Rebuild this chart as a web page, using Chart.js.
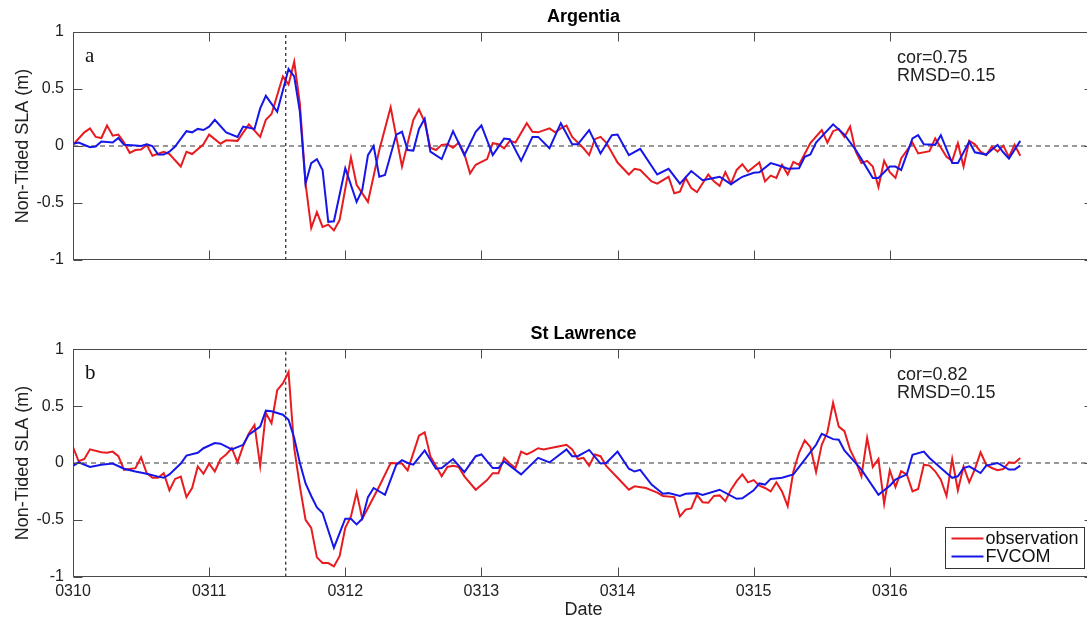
<!DOCTYPE html>
<html>
<head>
<meta charset="utf-8">
<script src="https://cdn.jsdelivr.net/npm/chart.js@4.4.1/dist/chart.umd.min.js"></script>
<style>
  html, body { margin: 0; padding: 0; background: #fff; overflow: hidden; }
  #wrap { position: relative; width: 1087px; height: 619px; overflow: hidden; }
  .panel { position: absolute; left: 0; }
  #chartA { top: 0; }
  #chartB { top: 300px; }
</style>
</head>
<body>
<div id="wrap">
  <canvas class="panel" id="chartA" width="1094" height="300"></canvas>
  <canvas class="panel" id="chartB" width="1094" height="330"></canvas>
</div>
<script>
// hours since 0310 00:00, 10 per line
const dayLabels = ['0310', '0311', '0312', '0313', '0314', '0315', '0316'];
const yTicks = [-1, -0.5, 0, 0.5, 1];
const eventHour = 37.5;

// Argentia: tide gauge (observation)
const argObsHours = [
  0, 2, 3, 4, 5, 6, 7, 8, 9, 10,
  11, 12, 13, 14, 16, 17, 19, 20, 21, 23,
  24, 26, 27, 29, 31, 33, 34, 35, 37, 38,
  39, 40, 41, 42, 43, 44, 45, 46, 47, 49,
  50, 52, 54, 56, 58, 60, 61, 62, 63, 64,
  65, 66, 67, 68, 69, 70, 71, 73, 74, 75,
  76, 77, 78, 80, 81, 82, 84, 85, 86, 87,
  88, 90, 91, 92, 93, 94, 96, 98, 99, 100,
  102, 103, 105, 106, 107, 108, 109, 110, 112, 113,
  114, 115, 116, 117, 118, 119, 121, 122, 123, 124,
  125, 126, 127, 128, 130, 132, 133, 134, 135, 136,
  137, 138, 139, 140, 141, 142, 143, 144, 145, 146,
  148, 149, 151, 152, 154, 155, 156, 157, 158, 159,
  160, 161, 162, 163, 164, 165, 166, 167
];
const argObs = [
  0.01, 0.12, 0.155, 0.08, 0.07, 0.18, 0.09, 0.10, 0.03, -0.06,
  -0.035, -0.03, 0.01, -0.085, -0.05, -0.07, -0.18, -0.05, -0.07, 0.015,
  0.10, 0.02, 0.05, 0.045, 0.19, 0.08, 0.23, 0.28, 0.61, 0.54,
  0.74, 0.37, -0.33, -0.72, -0.58, -0.71, -0.69, -0.74, -0.65, -0.10,
  -0.34, -0.49, -0.035, 0.34, -0.18, 0.23, 0.32, 0.21, -0.015, -0.035,
  0.01, 0.015, -0.015, 0.03, -0.07, -0.24, -0.165, -0.115, 0.025, 0.015,
  -0.02, 0.045, 0.03, 0.2, 0.125, 0.12, 0.155, 0.12, 0.155, 0.18,
  0.08, -0.02, -0.08, 0.06, 0.08, 0.03, -0.145, -0.25, -0.2, -0.21,
  -0.31, -0.33, -0.27, -0.415, -0.4, -0.28, -0.37, -0.405, -0.25, -0.31,
  -0.35, -0.23, -0.33, -0.21, -0.16, -0.225, -0.145, -0.31, -0.26, -0.28,
  -0.165, -0.25, -0.14, -0.165, 0.025, 0.14, 0.03, 0.13, 0.15, 0.08,
  0.17, -0.05, -0.15, -0.13, -0.18, -0.36, -0.13, -0.23, -0.28, -0.11,
  0.03, -0.065, -0.045, 0.067, -0.095, -0.13, 0.025, -0.18, 0.045, 0.015,
  -0.05, -0.08, -0.005, -0.05, 0.003, -0.095, 0.01, -0.085
];

// Argentia: FVCOM
const argModHours = [
  0, 1, 3, 4, 5, 7, 8, 9, 11, 12,
  13, 14, 15, 16, 17, 18, 20, 21, 22, 23,
  24, 25, 27, 29, 30, 32, 33, 34, 36, 38,
  39, 40, 41, 42, 43, 44, 45, 46, 48, 50,
  51, 52, 53, 54, 55, 57, 58, 59, 60, 61,
  62, 63, 65, 67, 69, 71, 72, 74, 76, 77,
  79, 81, 82, 84, 86, 88, 89, 91, 93, 95,
  96, 98, 100, 103, 105, 107, 109, 111, 113, 114,
  116, 118, 120, 121, 123, 125, 126, 128, 129, 130,
  131, 134, 136, 138, 139, 141, 142, 144, 145, 146,
  148, 149, 150, 152, 153, 155, 156, 158, 159, 161,
  163, 164, 165, 167
];
const argMod = [
  0.02, 0.03, -0.01, -0.005, 0.04, 0.03, 0.07, 0.01, 0.005, 0.0,
  0.015, 0.0, -0.075, -0.075, -0.05, -0.005, 0.13, 0.12, 0.15, 0.14,
  0.17, 0.23, 0.12, 0.08, 0.17, 0.15, 0.33, 0.44, 0.30, 0.675,
  0.61, 0.30, -0.33, -0.15, -0.115, -0.21, -0.665, -0.66, -0.195, -0.49,
  -0.385, -0.08, 0.0, -0.27, -0.255, 0.10, 0.125, -0.035, -0.04, 0.15,
  0.24, -0.05, -0.115, 0.13, -0.08, 0.125, 0.18, -0.08, 0.065, 0.06,
  -0.13, 0.08, 0.08, -0.02, 0.2, 0.015, 0.015, 0.14, -0.065, 0.095,
  0.10, -0.08, -0.025, -0.25, -0.2, -0.33, -0.22, -0.30, -0.28, -0.27,
  -0.335, -0.27, -0.235, -0.23, -0.15, -0.18, -0.2, -0.195, -0.095, -0.075,
  0.03, 0.19, 0.10, -0.035, -0.115, -0.28, -0.28, -0.18, -0.18, -0.21,
  0.067, 0.095, 0.015, 0.01, 0.095, -0.15, -0.15, 0.038, -0.055, -0.075,
  0.01, -0.055, -0.11, 0.045
];

// St Lawrence: tide gauge (observation)
const stlObsHours = [
  0, 1, 2, 3, 5, 6, 7, 8, 9, 11,
  12, 13, 14, 15, 16, 17, 18, 19, 20, 21,
  22, 23, 24, 25, 26, 27, 28, 29, 30, 31,
  32, 33, 34, 35, 36, 37, 38, 39, 40, 41,
  42, 43, 44, 45, 46, 47, 48, 49, 50, 51,
  52, 54, 56, 58, 59, 61, 62, 63, 65, 66,
  67, 68, 69, 71, 73, 74, 75, 76, 77, 78,
  79, 80, 81, 82, 83, 84, 86, 87, 88, 89,
  90, 91, 92, 93, 94, 96, 98, 99, 101, 103,
  104, 106, 107, 108, 109, 110, 111, 112, 113, 114,
  115, 116, 117, 118, 119, 120, 121, 122, 123, 124,
  125, 126, 127, 128, 129, 130, 131, 132, 133, 134,
  135, 136, 137, 138, 139, 140, 141, 142, 143, 144,
  145, 146, 147, 148, 149, 150, 151, 152, 153, 154,
  155, 156, 157, 158, 159, 160, 161, 162, 163, 164,
  165, 166, 167
];
const stlObs = [
  0.14, 0.015, 0.035, 0.12, 0.095, 0.09, 0.1, 0.06, -0.06, -0.045,
  0.05, -0.09, -0.13, -0.13, -0.09, -0.24, -0.14, -0.12, -0.30, -0.22,
  -0.03, -0.095, -0.005, -0.075, 0.035, 0.075, 0.13, 0.005, 0.15, 0.26,
  0.335, -0.025, 0.44, 0.35, 0.64, 0.70, 0.80, 0.13, -0.205, -0.50,
  -0.57, -0.83, -0.88, -0.88, -0.91, -0.82, -0.57, -0.47, -0.26, -0.49,
  -0.395, -0.205, 0.0, -0.005, -0.065, 0.24, 0.27, 0.06, -0.117, -0.035,
  -0.025, -0.035, -0.117, -0.235, -0.15, -0.09, -0.09, 0.045, -0.005, -0.045,
  0.10, 0.075, 0.10, 0.13, 0.12, 0.13, 0.15, 0.16, 0.12, 0.035,
  0.045, -0.025, 0.075, 0.06, -0.025, -0.13, -0.235, -0.205, -0.22, -0.26,
  -0.29, -0.30, -0.47, -0.41, -0.40, -0.28, -0.345, -0.35, -0.29, -0.285,
  -0.335, -0.235, -0.16, -0.1, -0.17, -0.15, -0.2, -0.22, -0.25, -0.17,
  -0.25, -0.38, -0.075, 0.09, 0.2, 0.14, -0.08, 0.16, 0.27, 0.53,
  0.32, 0.28, 0.117, 0.015, -0.117, 0.22, -0.035, 0.035, -0.357, -0.064,
  -0.21, -0.073, -0.1, -0.25, -0.228, -0.015, -0.023, -0.073, -0.146, -0.29,
  0.035, -0.24, -0.03, -0.17, -0.053, 0.094, -0.015, -0.044, -0.064, -0.053,
  0.006, 0.0, 0.044
];

// St Lawrence: FVCOM
const stlModHours = [
  0, 1, 3, 5, 7, 9, 11, 13, 15, 16,
  17, 19, 20, 22, 23, 25, 26, 28, 30, 31,
  33, 34, 35, 37, 38, 39, 40, 41, 42, 43,
  44, 46, 48, 49, 50, 51, 52, 53, 55, 57,
  58, 59, 60, 62, 64, 65, 67, 69, 71, 72,
  74, 75, 76, 79, 82, 84, 87, 88, 89, 91,
  93, 94, 96, 98, 99, 100, 102, 104, 105, 107,
  108, 110, 111, 114, 117, 118, 120, 121, 122, 123,
  125, 127, 129, 131, 132, 134, 135, 136, 139, 142,
  144, 145, 147, 148, 150, 151, 152, 154, 155, 156,
  157, 158, 160, 161, 163, 165, 166, 167
];
const stlMod = [
  -0.025, 0.005, -0.035, -0.015, -0.005, -0.05, -0.075, -0.095, -0.12, -0.13,
  -0.1, -0.005, 0.065, 0.09, 0.13, 0.175, 0.17, 0.12, 0.16, 0.25,
  0.32, 0.46, 0.455, 0.425, 0.38, 0.22, 0.0, -0.18, -0.29, -0.39,
  -0.44, -0.745, -0.49, -0.49, -0.54, -0.49, -0.3, -0.22, -0.28, -0.015,
  0.025, 0.0, -0.015, 0.11, -0.05, -0.045, 0.035, -0.08, 0.06, 0.075,
  -0.045, -0.045, 0.015, -0.1, 0.045, 0.005, 0.12, 0.06, 0.06, 0.115,
  -0.005, 0.0, 0.10, -0.05, -0.075, -0.06, -0.19, -0.27, -0.265, -0.29,
  -0.27, -0.265, -0.28, -0.235, -0.315, -0.31, -0.24, -0.18, -0.19, -0.14,
  -0.13, -0.1, 0.03, 0.16, 0.257, 0.21, 0.205, 0.11, -0.058, -0.28,
  -0.2, -0.146, -0.1, 0.073, 0.1, 0.044, 0.0, -0.088, -0.13, -0.117,
  -0.044, -0.03, -0.088, -0.023, 0.0, -0.058, -0.058, -0.023
];

const argStats = ['cor=0.75', 'RMSD=0.15'];
const stlStats = ['cor=0.82', 'RMSD=0.15'];

const X_MAX = 180; // 0317 12:00
const FONT = '"Liberation Sans", Arial, Helvetica, sans-serif';
const RED = 'rgb(232, 28, 32)';
const BLUE = 'rgb(22, 22, 232)';

Chart.defaults.font.family = FONT;
Chart.defaults.color = '#222';

function toPoints(hours, vals) {
  return hours.map((h, i) => ({ x: h, y: vals[i] }));
}

// axes box with inward ticks, panel letter, stats text and the legend
const panelFrame = {
  id: 'panelFrame',
  afterDraw(chart, args, opts) {
    const { ctx, chartArea: a, scales: { x, y } } = chart;
    const L = Math.round(a.left) + 0.5, R = Math.round(a.right) - 0.5;
    const T = Math.round(a.top) + 0.5, B = Math.round(a.bottom) - 0.5;
    ctx.save();
    ctx.strokeStyle = '#4a4a4a';
    ctx.lineWidth = 1;
    ctx.strokeRect(L, T, R - L, B - T);
    ctx.beginPath();
    x.ticks.forEach(t => {
      const px = Math.round(x.getPixelForValue(t.value)) + 0.5;
      ctx.moveTo(px, B); ctx.lineTo(px, B - 9);
      ctx.moveTo(px, T); ctx.lineTo(px, T + 9);
    });
    y.ticks.forEach(t => {
      const py = Math.round(y.getPixelForValue(t.value)) + 0.5;
      ctx.moveTo(L, py); ctx.lineTo(L + 9, py);
      ctx.moveTo(R, py); ctx.lineTo(R - 9, py);
    });
    ctx.stroke();

    ctx.fillStyle = '#111';
    ctx.textBaseline = 'alphabetic';
    ctx.textAlign = 'left';
    ctx.font = '21px "Liberation Serif", "Times New Roman", serif';
    ctx.fillText(opts.letter, a.left + 12, a.top + 30);

    ctx.fillStyle = '#222';
    ctx.font = '18px ' + FONT;
    ctx.fillText(opts.stats[0], a.left + 824, a.top + 31);
    ctx.fillText(opts.stats[1], a.left + 824, a.top + 49);

    if (opts.legend) {
      const bw = 139, bh = 41;
      const bx = Math.round(a.right) - 10 - bw + 0.5;
      const by = Math.round(a.bottom) - 9 - bh + 0.5;
      ctx.fillStyle = '#fff';
      ctx.fillRect(bx, by, bw, bh);
      ctx.strokeStyle = '#333';
      ctx.strokeRect(bx, by, bw, bh);
      const items = chart.data.datasets.filter(d => d.inLegend);
      items.forEach((d, i) => {
        const ly = by + 11 + i * 18;
        ctx.strokeStyle = d.borderColor;
        ctx.lineWidth = 2;
        ctx.beginPath();
        ctx.moveTo(bx + 6, ly); ctx.lineTo(bx + 38, ly);
        ctx.stroke();
        ctx.fillStyle = '#111';
        ctx.textBaseline = 'middle';
        ctx.fillText(d.label, bx + 40, ly + 1);
      });
    }
    ctx.restore();
  }
};

function buildPanel(canvasId, cfg) {
  const datasets = [
    { label: 'FVCOM', data: toPoints(cfg.modHours, cfg.mod), borderColor: BLUE, borderWidth: 2, order: 0, inLegend: true },
    { label: 'observation', data: toPoints(cfg.obsHours, cfg.obs), borderColor: RED, borderWidth: 2, order: 1, inLegend: true },
    { label: 'zero', data: [{ x: 0, y: 0 }, { x: X_MAX, y: 0 }], borderColor: '#333', borderWidth: 1, borderDash: [5, 4], order: 2 },
    { label: 'event', data: [{ x: eventHour, y: -1 }, { x: eventHour, y: 1 }], borderColor: '#333', borderWidth: 1.3, borderDash: [3, 3], order: 2 }
  ];
  // legend lists observation first
  const legendOrder = [datasets[1], datasets[0], datasets[2], datasets[3]];

  return new Chart(document.getElementById(canvasId), {
    type: 'line',
    data: { datasets: legendOrder },
    options: {
      responsive: false,
      animation: false,
      parsing: true,
      elements: { point: { radius: 0 }, line: { tension: 0 } },
      layout: { padding: 0 },
      plugins: {
        legend: { display: false },
        tooltip: { enabled: false },
        title: {
          display: true,
          text: cfg.title,
          fullSize: false,
          color: '#000',
          font: { family: FONT, size: 18, weight: 'bold' },
          padding: cfg.titlePadding
        },
        panelFrame: { letter: cfg.letter, stats: cfg.stats, legend: cfg.legend }
      },
      scales: {
        x: {
          type: 'linear',
          min: 0,
          max: X_MAX,
          grid: { display: false, drawTicks: false },
          border: { display: false },
          afterBuildTicks: s => { s.ticks = dayLabels.map((_, i) => ({ value: i * 24 })); },
          afterFit: s => { s.height = cfg.xHeight; s.paddingLeft = 0; s.paddingRight = 0; },
          ticks: {
            display: cfg.showDates,
            padding: 5,
            maxRotation: 0,
            autoSkip: false,
            color: '#222',
            font: { size: 16 },
            callback: (v, i) => dayLabels[i]
          },
          title: {
            display: cfg.showDates,
            text: 'Date',
            color: '#222',
            font: { size: 18 },
            padding: { top: 0, bottom: 9 }
          }
        },
        y: {
          type: 'linear',
          min: -1,
          max: 1,
          grid: { display: false, drawTicks: false },
          border: { display: false },
          afterBuildTicks: s => { s.ticks = yTicks.map(v => ({ value: v })); },
          afterFit: s => { s.width = 73; s.paddingTop = 0; s.paddingBottom = 0; },
          ticks: {
            padding: 9,
            color: '#222',
            font: { size: 16 },
            callback: v => String(v)
          },
          title: {
            display: true,
            text: 'Non-Tided SLA (m)',
            color: '#222',
            font: { size: 18 },
            padding: { top: 12, bottom: 0 }
          }
        }
      }
    },
    plugins: [panelFrame]
  });
}

buildPanel('chartA', {
  title: 'Argentia', letter: 'a', stats: argStats, legend: false,
  obsHours: argObsHours, obs: argObs, modHours: argModHours, mod: argMod,
  titlePadding: { top: 6, bottom: 4.4 }, xHeight: 40, showDates: false
});

buildPanel('chartB', {
  title: 'St Lawrence', letter: 'b', stats: stlStats, legend: true,
  obsHours: stlObsHours, obs: stlObs, modHours: stlModHours, mod: stlMod,
  titlePadding: { top: 23.7, bottom: 4 }, xHeight: 53.3, showDates: true
});
</script>
</body>
</html>
